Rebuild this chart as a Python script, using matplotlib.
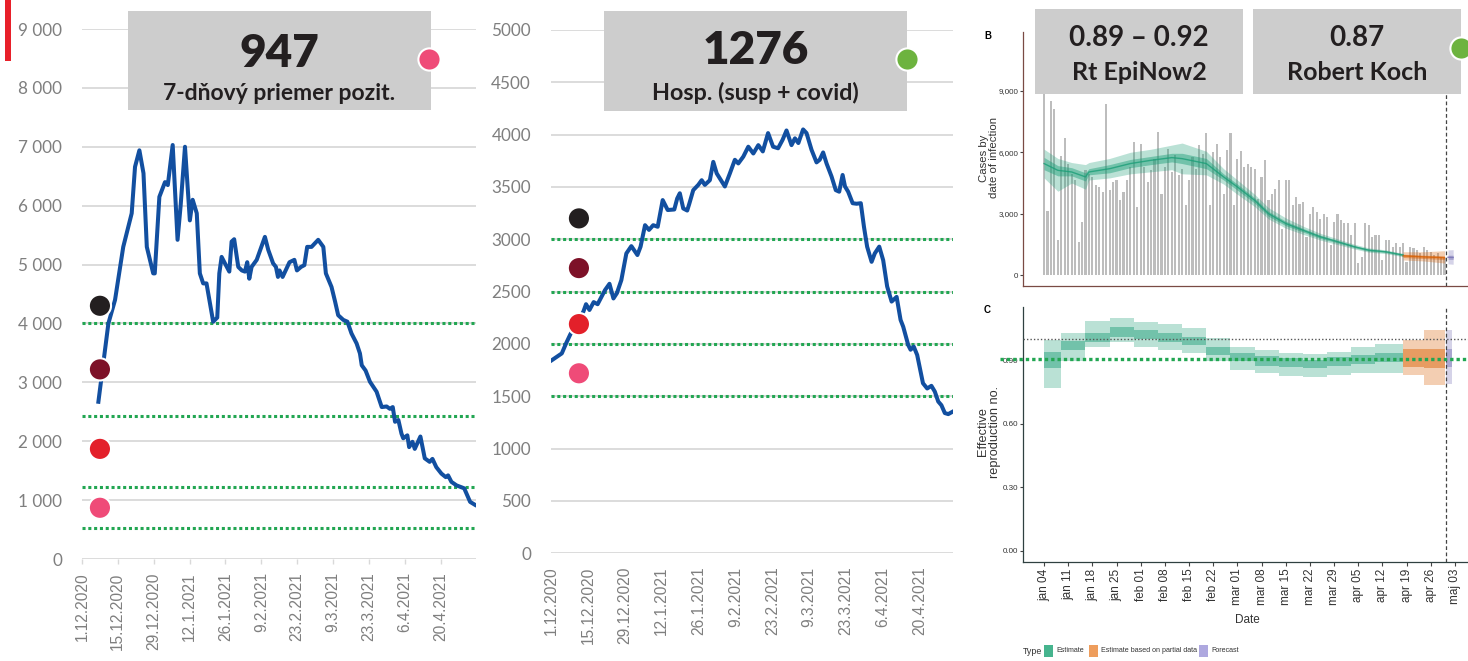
import matplotlib

matplotlib.use("Agg")
import matplotlib.pyplot as plt
import matplotlib.transforms as mtransforms
from matplotlib import font_manager
from matplotlib.lines import Line2D
from matplotlib.patches import Rectangle
import numpy as np

plt.rcParams["font.family"] = ["Lato", "DejaVu Sans"]

W, H = 1468, 661

# fonts
_names = {f.name for f in font_manager.fontManager.ttflist}
HAS_NARROW = "Liberation Sans Narrow" in _names
NARROW = "Liberation Sans Narrow" if HAS_NARROW else "Liberation Sans"
NS = 1.0 if HAS_NARROW else 0.85

# colours
BLUE = "#124fa0"
GREEN = "#22a652"
GRID = "#d9d9d9"
TICK_GREY = "#7f7f7f"
BOX = "#cdcdcd"
INK = "#231f20"
dot_colors = ["#231f20", "#7d1128", "#e3202a", "#ef4b78"]

# ---- left chart: 7-day average of positives (days since 1.12.2020)
pos_day = [6.4, 10.3, 12.9, 16.1, 19.4, 20.7, 22.4, 24.0, 25.3, 27.8,
           28.4, 30.2, 32.4, 33.5, 35.4, 37.3, 38.5, 40.2, 42.1, 43.2,
           44.8, 46.0, 47.3, 48.6, 51.2, 52.8, 53.6, 54.5, 55.8, 57.5,
           58.4, 59.4, 61.0, 62.4, 63.6, 64.5, 65.3, 66.2, 68.2, 71.4,
           72.7, 74.6, 75.7, 76.5, 77.1, 78.3, 81.0, 82.9, 83.9, 85.5,
           86.8, 87.9, 89.6, 92.2, 94.2, 95.2, 97.4, 98.8, 100.0, 102.0,
           103.6, 105.2, 107.2, 108.5, 109.2, 110.7, 112.4, 115.0, 117.0, 118.9,
           120.2, 121.3, 122.2, 123.5, 124.7, 125.4, 127.0, 127.7, 129.0, 129.9,
           132.1, 133.8, 135.7, 136.8, 138.3, 140.3, 142.0, 142.9, 144.2, 146.2,
           149.2, 151.5, 153.4]
pos_val = [2670, 4000, 4400, 5300, 5870, 6660, 6940, 6550, 5300, 4850,
           4850, 6150, 6400, 6350, 7030, 5420, 6000, 7000, 5750, 6100,
           5870, 4850, 4680, 4680, 4030, 4100, 4850, 5130, 5020, 4880,
           5390, 5430, 4960, 4900, 4880, 5040, 4760, 4960, 5080, 5470,
           5250, 5020, 4960, 4790, 4900, 4790, 5040, 5080, 4900, 4960,
           4990, 5300, 5300, 5420, 5300, 4850, 4620, 4370, 4140, 4060,
           4030, 3830, 3660, 3490, 3290, 3200, 3010, 2840, 2580, 2590,
           2550, 2580, 2330, 2360, 2130, 2050, 2100, 1900, 1990, 1870,
           2080, 1710, 1650, 1700, 1560, 1450, 1390, 1420, 1310, 1250,
           1200, 970, 920]
pos_levels = [4000, 2420, 1215, 525]
pos_dots = [4300, 3220, 1870, 870]

# ---- middle chart: hospitalised (days since 1.12.2020)
hosp_day = [0.0, 0.6, 4.1, 5.8, 7.3, 12.3, 13.3, 14.6, 16.2, 17.7,
            20.5, 22.2, 23.7, 25.0, 26.7, 28.6, 30.5, 32.8, 34.0, 35.7,
            37.2, 38.8, 40.5, 42.4, 44.3, 46.8, 47.9, 48.9, 50.2, 51.7,
            52.5, 54.0, 55.9, 57.2, 58.4, 60.3, 61.6, 62.9, 66.0, 67.9,
            69.8, 71.1, 73.0, 74.9, 76.8, 78.7, 80.4, 82.4, 84.3, 86.2,
            87.9, 89.4, 91.3, 92.6, 93.9, 95.7, 97.0, 98.9, 100.8, 102.0,
            103.3, 104.6, 106.5, 108.1, 109.4, 110.7, 111.6, 112.8, 114.5, 116.0,
            117.6, 118.8, 120.0, 121.7, 122.9, 124.6, 126.1, 127.6, 129.3, 131.2,
            132.7, 133.7, 135.6, 136.5, 137.7, 139.0, 141.2, 142.8, 144.4, 145.7,
            147.0, 148.2, 149.5, 150.8, 152.6]
hosp_val = [1840, 1850, 1910, 2010, 2090, 2310, 2380, 2325, 2400, 2380,
            2515, 2575, 2435, 2485, 2610, 2865, 2935, 2850, 2930, 3135,
            3090, 3135, 3120, 3375, 3280, 3285, 3390, 3440, 3295, 3275,
            3340, 3470, 3520, 3565, 3520, 3565, 3740, 3630, 3505, 3630,
            3760, 3725, 3790, 3885, 3820, 3900, 3840, 4015, 3885, 3870,
            3950, 4040, 3900, 3965, 3920, 4050, 4015, 3855, 3735, 3760,
            3830, 3725, 3600, 3470, 3455, 3615, 3505, 3455, 3345, 3340,
            3345, 3120, 2930, 2785, 2865, 2930, 2800, 2550, 2405, 2450,
            2230, 2165, 1990, 1945, 1975, 1895, 1625, 1575, 1600, 1545,
            1450, 1415, 1340, 1330, 1355]
hosp_levels = [3000, 2500, 2000, 1500]
hosp_dots = [3200, 2725, 2190, 1720]

date_labels = ["1.12.2020", "15.12.2020", "29.12.2020", "12.1.2021", "26.1.2021",
               "9.2.2021", "23.2.2021", "9.3.2021", "23.3.2021", "6.4.2021", "20.4.2021"]

# ---- right panel B: cases by date of infection (days since 4 Jan)
cases = [9600, 3140, 8490, 8120, 1720, 5800, 6680, 5450, 4960, 4640,
         1640, 2610, 5120, 4960, 4800, 4390, 4310, 4070, 8360, 4150,
         4550, 4640, 3660, 4070, 4640, 5280, 6500, 3340, 6420, 5280,
         4550, 5120, 5690, 6990, 3990, 5280, 6180, 5040, 5850, 4880,
         5200, 3420, 4640, 5770, 5200, 6340, 5930, 6940, 3420, 6010,
         6390, 5770, 3990, 6130, 6940, 3420, 5690, 6060, 5280, 5450,
         5280, 5200, 3740, 4800, 5610, 3660, 3990, 4230, 4640, 2240,
         4640, 4640, 3420, 3820, 3500, 3580, 1880, 3010, 3340, 3100,
         2770, 3010, 2850, 1470, 2610, 3010, 2690, 2530, 2530, 1960,
         2530, 580, 910, 2560, 2450, 1880, 1960, 1960, 745, 1720,
         1720, 1390, 1560, 1390, 1560, 665, 1390, 1310, 1230, 1070,
         1390, 1230, 1150, 990, 1070, 910, 830]

est_day = [0, 4, 8, 12, 13, 19, 25, 31, 37, 40, 47, 52, 56, 61, 65, 70, 75, 80, 85, 90, 94, 99, 104]
est_med = [5450, 5120, 5040, 4800, 5040, 5200, 5450, 5610, 5740, 5690, 5450, 4800,
           4310, 3660, 3010, 2530, 2200, 1880, 1640, 1390, 1230, 1150, 990]
est_hi90 = [6150, 5700, 5500, 5400, 5500, 5700, 6000, 6150, 6350, 6450, 6050, 5200,
            4650, 3950, 3300, 2800, 2400, 2050, 1780, 1510, 1340, 1240, 1070]
est_lo90 = [4750, 4100, 4500, 4200, 4650, 4750, 4950, 5050, 5150, 4950, 4900, 4450,
            3950, 3350, 2750, 2300, 2000, 1720, 1500, 1280, 1130, 1060, 910]
est_hi50 = [5750, 5350, 5250, 5000, 5200, 5400, 5650, 5800, 5950, 5950, 5700, 4950,
            4450, 3780, 3120, 2640, 2290, 1960, 1700, 1440, 1280, 1190, 1030]
est_lo50 = [5150, 4850, 4850, 4600, 4900, 5000, 5250, 5400, 5530, 5450, 5200, 4650,
            4150, 3520, 2880, 2420, 2110, 1800, 1580, 1340, 1180, 1110, 950]
part_day = [104, 110, 116]
part_med = [950, 900, 860]
part_hi90 = [1150, 1150, 1200]
part_lo90 = [750, 700, 600]
part_hi50 = [1030, 980, 950]
part_lo50 = [870, 820, 770]
fc_day = [117, 118.5]
fc_med = [880, 870]
fc_hi90 = [1240, 1250]
fc_lo90 = [560, 540]
fc_hi50 = [980, 980]
fc_lo50 = [780, 770]

# ---- right panel C: effective reproduction number (weekly steps)
rt_edges = [0, 5, 12, 19, 26, 33, 40, 47, 54, 61, 68, 75, 82, 89, 96, 104]
rt_lo50 = [0.861, 0.948, 0.987, 1.011, 0.998, 0.987, 0.972, 0.924, 0.898, 0.872, 0.869, 0.861, 0.872, 0.882, 0.893]
rt_hi50 = [0.940, 0.992, 1.030, 1.055, 1.042, 1.027, 1.011, 0.964, 0.935, 0.920, 0.909, 0.901, 0.913, 0.925, 0.935]
rt_lo90 = [0.767, 0.898, 0.961, 0.987, 0.964, 0.948, 0.932, 0.898, 0.853, 0.838, 0.825, 0.819, 0.830, 0.838, 0.838]
rt_hi90 = [0.995, 1.026, 1.087, 1.097, 1.082, 1.069, 1.050, 1.003, 0.964, 0.948, 0.935, 0.929, 0.940, 0.961, 0.977]
rtp_edges = [104, 110, 116]
rtp_lo50 = [0.866, 0.861]
rtp_hi50 = [0.951, 0.955]
rtp_lo90 = [0.830, 0.783]
rtp_hi90 = [0.995, 1.042]
rtf_edges = [116.3, 118.3]
rtf_lo50 = [0.866]
rtf_hi50 = [0.951]
rtf_lo90 = [0.786]
rtf_hi90 = [1.042]
rt_target = 0.907

week_labels = ["jan 04", "jan 11", "jan 18", "jan 25", "feb 01", "feb 08", "feb 15", "feb 22",
               "mar 01", "mar 08", "mar 15", "mar 22", "mar 29", "apr 05", "apr 12", "apr 19",
               "apr 26", "maj 03"]

fig = plt.figure(figsize=(W / 100, H / 100), dpi=100)
fig.patch.set_facecolor("white")


def axes_px(left, top, right, bottom):
    return fig.add_axes([left / W, 1 - bottom / H, (right - left) / W, (bottom - top) / H])


def fxy(x, y):
    return x / W, 1 - y / H


def box_px(left, top, right, bottom, color, z=5):
    r = Rectangle(fxy(left, bottom), (right - left) / W, (bottom - top) / H,
                  transform=fig.transFigure, fc=color, ec="none", zorder=z)
    fig.add_artist(r)


def dot_px(x, y, color):
    fig.add_artist(Line2D([x / W], [1 - y / H], marker="o", markersize=16, mfc=color,
                          mec="white", mew=1.5, transform=fig.transFigure, zorder=8))


xsize = 14 if HAS_NARROW else 11.2


def style_excel(ax, ymax, step, labels, ticklen):
    for s in ax.spines.values():
        s.set_visible(False)
    ax.set_axisbelow(True)
    ax.grid(axis="y", color=GRID, lw=1.3)
    ax.set_ylim(0, ymax)
    ax.set_yticks(np.arange(0, ymax + 1, step))
    ax.set_yticklabels(labels)
    ax.tick_params(axis="y", length=0, pad=14.4, labelsize=12.3, labelcolor=TICK_GREY)
    ax.set_xticks(np.arange(len(date_labels)) * 14)
    ax.set_xticklabels(date_labels, rotation=90, fontsize=xsize, family=NARROW, color=TICK_GREY)
    ax.tick_params(axis="x", length=ticklen, width=1, color=GRID,
                   pad=9.6 - ticklen)


# ---- left chart
ax1 = axes_px(82, 29, 476, 559)
style_excel(ax1, 9000, 1000, [f"{v:,}".replace(",", " ") for v in range(0, 9001, 1000)], 3.6)
ax1.set_xlim(0, 153.8)
for lvl in pos_levels:
    ax1.axhline(lvl, color=GREEN, lw=2.2, ls=(0, (1, 0.9)), zorder=2)
ax1.plot(pos_day, pos_val, color=BLUE, lw=2.9, solid_joinstyle="round", zorder=3)
ax1.scatter([7] * len(pos_dots), pos_dots, s=256, c=dot_colors, edgecolors="white",
            linewidths=1.5, zorder=4)

# ---- middle chart
ax2 = axes_px(551, 30, 953, 553.3)
style_excel(ax2, 5000, 500, [str(v) for v in range(0, 5001, 500)], 0)
ax2.set_xlim(0, 152.6)
for lvl in hosp_levels:
    ax2.axhline(lvl, color=GREEN, lw=2.2, ls=(0, (1, 0.9)), zorder=2)
ax2.plot(hosp_day, hosp_val, color=BLUE, lw=2.9, solid_joinstyle="round", zorder=3)
ax2.scatter([10.6] * len(hosp_dots), hosp_dots, s=256, c=dot_colors, edgecolors="white",
            linewidths=1.5, zorder=4)

# red mark top-left
box_px(5, 0, 11, 61, "#e8202a")

# value boxes
box_px(128, 11, 431, 110, BOX)
fig.text(*fxy(279.5, 67), "947", ha="center", va="baseline", fontsize=33, weight="heavy",
         color=INK, zorder=6)
fig.text(*fxy(279.5, 100), "7-dňový priemer pozit.", ha="center", va="baseline", fontsize=16.5,
         weight="bold", color=INK, zorder=6)
dot_px(429, 59, "#ef4b78")

box_px(604, 11, 907, 111, BOX)
fig.text(*fxy(755.5, 63.5), "1276", ha="center", va="baseline", fontsize=33, weight="heavy",
         color=INK, zorder=6)
fig.text(*fxy(755.5, 100.5), "Hosp. (susp + covid)", ha="center", va="baseline", fontsize=16.8,
         weight="bold", color=INK, zorder=6)
dot_px(907, 59, "#6db33f")

# ---- right panel (EpiNow2 figure)
EST, PART, FC = "#1b9e77", "#d95f02", "#7570b3"

axB = axes_px(1023, 31.7, 1468, 286)
axB.bar(np.arange(len(cases)), cases, width=0.62, color="#bdbdbd", zorder=1)
for d, lo9, hi9, lo5, hi5, med, c in [
    (est_day, est_lo90, est_hi90, est_lo50, est_hi50, est_med, EST),
    (part_day, part_lo90, part_hi90, part_lo50, part_hi50, part_med, PART),
    (fc_day, fc_lo90, fc_hi90, fc_lo50, fc_hi50, fc_med, FC),
]:
    axB.fill_between(d, lo9, hi9, color=c, alpha=0.3, lw=0, zorder=2)
    axB.fill_between(d, lo5, hi5, color=c, alpha=0.45, lw=0, zorder=2)
    axB.plot(d, med, color=c, lw=1.0, alpha=0.8, zorder=3)
axB.set_xlim(-6.1, 122.8)
axB.set_ylim(-520, 11880)
axB.set_yticks([0, 3000, 6000, 9000])
axB.set_yticklabels(["0", "3,000", "6,000", "9,000"])
axB.set_xticks([])

axC = axes_px(1023, 306.7, 1468, 561.7)


def step_band(ax, edges, lo, hi, color, alpha):
    ax.fill_between(edges, list(lo) + [lo[-1]], list(hi) + [hi[-1]], step="post",
                    color=color, alpha=alpha, lw=0, zorder=2)


for edges, lo9, hi9, lo5, hi5, c in [
    (rt_edges, rt_lo90, rt_hi90, rt_lo50, rt_hi50, EST),
    (rtp_edges, rtp_lo90, rtp_hi90, rtp_lo50, rtp_hi50, PART),
    (rtf_edges, rtf_lo90, rtf_hi90, rtf_lo50, rtf_hi50, FC),
]:
    step_band(axC, edges, lo9, hi9, c, 0.3)
    step_band(axC, edges, lo5, hi5, c, 0.45)
axC.axhline(1.0, color="#555555", lw=1.0, ls=(0, (1, 1.5)), zorder=3)
axC.set_xlim(-6.1, 122.8)
axC.set_ylim(-0.052, 1.1526)
axC.set_yticks([0, 0.3, 0.6, 0.9])
axC.set_yticklabels(["0.00", "0.30", "0.60", "0.90"])
axC.set_xticks(np.arange(len(week_labels)) * 7)
axC.set_xticklabels(week_labels, rotation=90, fontsize=8.5, family="Liberation Sans",
                    color="#333333")
blend = mtransforms.blended_transform_factory(axC.transAxes, axC.transData)
axC.plot([-0.052, 1.0], [rt_target, rt_target], transform=blend, clip_on=False,
         color=GREEN, lw=2.4, ls=(0, (1, 0.9)), zorder=6)

for ax, spc in [(axB, "#7a4a44"), (axC, "#2f4040")]:
    ax.spines["top"].set_visible(False)
    ax.spines["right"].set_visible(False)
    ax.spines["left"].set_color(spc)
    ax.spines["bottom"].set_color(spc)
    ax.spines["left"].set_linewidth(0.9)
    ax.spines["bottom"].set_linewidth(0.9)
    ax.axvline(116.5, color="#444444", lw=0.9, ls=(0, (3, 2)), zorder=4)
    ax.tick_params(axis="y", length=2, pad=1.5, labelsize=6.8 * NS,
                   labelcolor="#333333", color="#444444")
    for t in ax.get_yticklabels():
        t.set_family(NARROW)
    ax.tick_params(axis="x", length=3, pad=2, color="#444444")

# right panel texts
fig.text(*fxy(988, 36), "B", ha="center", va="center", fontsize=7, weight="bold", family=NARROW)
fig.text(*fxy(987, 310), "C", ha="center", va="center", fontsize=7, weight="bold", family=NARROW)
fig.text(*fxy(989, 158), "Cases by\ndate of infection", rotation=90, ha="center", va="center",
         fontsize=8.2, linespacing=1.05, family="Liberation Sans", color="#333333")
fig.text(*fxy(989, 432), "Effective\nreproduction no.", rotation=90, ha="center", va="center",
         fontsize=9.2, linespacing=1.05, family="Liberation Sans", color="#333333")
fig.text(*fxy(1247, 620), "Date", ha="center", va="center", fontsize=10 * NS, family=NARROW,
         color="#333333")

fig.text(*fxy(1023, 651), "Type", ha="left", va="center", fontsize=7.5 * NS, family=NARROW,
         color="#333333")
for x0, col, label in [(1044, "#46b48e", "Estimate"),
                       (1089, "#ee9d5c", "Estimate based on partial data"),
                       (1199, "#aea8df", "Forecast")]:
    box_px(x0, 645, x0 + 9, 657, col, z=3)
    fig.text(*fxy(x0 + 12, 651), label, ha="left", va="center", fontsize=6.0 * NS,
             family=NARROW, color="#333333")

# value boxes over the EpiNow2 figure
box_px(1035, 9, 1243, 94, BOX)
fig.text(*fxy(1139, 46), "0.89 – 0.92", ha="center", va="baseline", fontsize=20, weight="bold",
         color=INK, zorder=6)
fig.text(*fxy(1139, 80), "Rt EpiNow2", ha="center", va="baseline", fontsize=18, weight="bold",
         color=INK, zorder=6)
box_px(1253, 9, 1461, 94, BOX)
fig.text(*fxy(1357, 46), "0.87", ha="center", va="baseline", fontsize=20, weight="bold",
         color=INK, zorder=6)
fig.text(*fxy(1357, 80), "Robert Koch", ha="center", va="baseline", fontsize=18, weight="bold",
         color=INK, zorder=6)
dot_px(1461, 48, "#6db33f")

fig.savefig("out.png", dpi=100, facecolor="white")
